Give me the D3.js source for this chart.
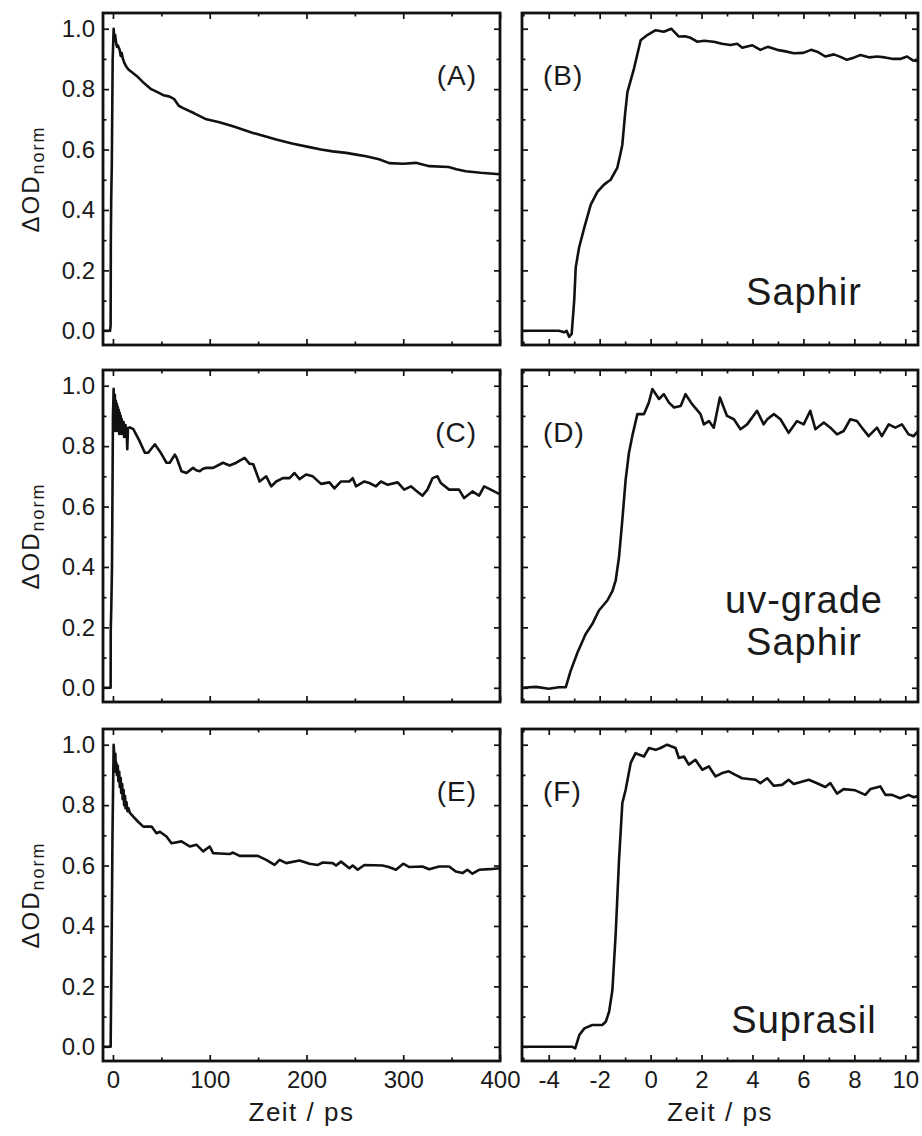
<!DOCTYPE html>
<html>
<head>
<meta charset="utf-8">
<script src="https://cdn.jsdelivr.net/npm/d3@7"></script>
<style>
body { margin: 0; background: #fff; }
svg text { font-family: "Liberation Sans", Arial, sans-serif; fill: #1a1a1a; }
</style>
</head>
<body>
<div id="chart"></div>
<script>
// left column: 0..400 ps, right column: -5..10 ps  ([t, dOD_norm])
const curveA = [[-10,0],[-3,0],[-2.4,0.02],[-2.2,0.3],[-1.8,0.44],[-1.2,0.55],[-0.3,0.9],[0.7,1.0],[1.5,0.96],[2.2,0.98],[3.4,0.95],[4.2,0.94],[5,0.945],[6.9,0.93],[8,0.91],[9,0.92],[10.3,0.9],[12,0.885],[13.7,0.875],[16,0.865],[20,0.855],[25.8,0.84],[32,0.82],[39.5,0.8],[46,0.79],[52,0.78],[58,0.776],[63,0.768],[68,0.745],[72.5,0.737],[84,0.72],[96.6,0.7],[110,0.69],[124,0.677],[144.7,0.655],[168.7,0.633],[185,0.62],[203,0.608],[215,0.6],[227,0.594],[241,0.589],[250,0.584],[261.5,0.578],[275,0.568],[285.6,0.555],[300,0.553],[313,0.556],[327,0.545],[347,0.542],[355,0.535],[364.6,0.528],[380,0.523],[400,0.518]];
const curveB = [[-5.05,0],[-4,0],[-3.6,0],[-3.4,-0.005],[-3.3,0],[-3.2,-0.02],[-3.1,-0.01],[-3.0,0.1],[-2.94,0.21],[-2.81,0.275],[-2.61,0.34],[-2.35,0.418],[-2.09,0.46],[-1.83,0.484],[-1.57,0.5],[-1.31,0.539],[-1.2,0.58],[-1.11,0.616],[-1.0,0.72],[-0.91,0.79],[-0.65,0.869],[-0.39,0.962],[-0.13,0.979],[0.2,0.995],[0.52,0.99],[0.81,1.0],[1.11,0.974],[1.35,0.975],[1.57,0.97],[1.83,0.957],[2.1,0.96],[2.48,0.957],[2.8,0.95],[3.14,0.946],[3.4,0.95],[3.6,0.937],[3.79,0.941],[4.0,0.945],[4.31,0.93],[4.6,0.94],[4.97,0.93],[5.3,0.925],[5.62,0.919],[6.0,0.92],[6.3,0.93],[6.54,0.924],[6.86,0.908],[7.2,0.915],[7.5,0.905],[7.71,0.897],[8.0,0.905],[8.24,0.913],[8.6,0.905],[8.89,0.908],[9.2,0.905],[9.54,0.9],[9.8,0.9],[10.07,0.908],[10.3,0.895],[10.5,0.893]];
const curveC = [[-10.3,0],[-3.5,0],[-2.4,0],[-2.3,0.19],[-1.7,0.27],[-1,0.4],[0,0.9],[0.7,0.99],[1.5,0.86],[2,0.97],[2.5,0.85],[3,0.95],[3.5,0.86],[4,0.94],[4.5,0.85],[5,0.93],[5.5,0.86],[6,0.92],[6.5,0.84],[7,0.91],[7.5,0.85],[8,0.9],[8.5,0.84],[9,0.89],[9.5,0.85],[10,0.88],[10.5,0.84],[11,0.88],[11.5,0.83],[12,0.87],[12.5,0.84],[13,0.87],[13.5,0.83],[14,0.86],[14.8,0.79],[15.5,0.86],[17.5,0.862],[21,0.856],[27,0.82],[33,0.778],[36.4,0.778],[43.3,0.806],[49,0.78],[55.3,0.745],[58.7,0.745],[63.9,0.772],[66,0.76],[70.8,0.717],[76,0.711],[82.8,0.728],[86,0.72],[89.7,0.717],[93,0.725],[96.6,0.728],[103.5,0.728],[113.7,0.745],[120.6,0.736],[127.5,0.745],[136,0.761],[141,0.742],[145,0.74],[151.5,0.683],[158.4,0.7],[163.6,0.667],[168.7,0.683],[175.6,0.694],[182.5,0.694],[187.6,0.711],[192.8,0.691],[199.6,0.706],[206.5,0.7],[215,0.675],[223.7,0.68],[228.9,0.66],[235.7,0.683],[244.3,0.683],[247.8,0.694],[251.2,0.667],[259.8,0.683],[265,0.678],[271.8,0.667],[277,0.683],[283.9,0.672],[294.2,0.68],[301,0.656],[307.9,0.667],[313.1,0.653],[319.9,0.636],[325,0.656],[330.2,0.694],[335.4,0.7],[338.8,0.678],[347.4,0.656],[357.7,0.656],[362.9,0.628],[371.5,0.65],[378.4,0.636],[383.6,0.667],[390.5,0.656],[400,0.64]];
const curveD = [[-5.05,0],[-4.5,0.003],[-4,-0.003],[-3.6,0.002],[-3.33,0.002],[-3.14,0.056],[-2.87,0.117],[-2.55,0.178],[-2.29,0.211],[-2.03,0.256],[-1.7,0.289],[-1.5,0.32],[-1.37,0.356],[-1.24,0.433],[-1.11,0.556],[-0.98,0.689],[-0.85,0.778],[-0.72,0.833],[-0.52,0.906],[-0.26,0.906],[-0.07,0.944],[0.07,0.989],[0.33,0.956],[0.52,0.972],[0.72,0.944],[0.92,0.928],[1.18,0.933],[1.37,0.972],[1.63,0.939],[1.96,0.906],[2.09,0.872],[2.29,0.883],[2.48,0.861],[2.72,0.961],[3.0,0.9],[3.27,0.889],[3.53,0.856],[3.79,0.872],[4.18,0.917],[4.44,0.872],[4.58,0.889],[4.84,0.906],[5.1,0.889],[5.42,0.844],[5.75,0.883],[6.01,0.872],[6.27,0.917],[6.47,0.856],[6.8,0.878],[7.06,0.861],[7.32,0.839],[7.58,0.85],[7.84,0.889],[8.1,0.883],[8.3,0.861],[8.56,0.833],[8.89,0.861],[9.08,0.833],[9.35,0.872],[9.61,0.861],[9.87,0.872],[10.13,0.839],[10.33,0.833],[10.5,0.85]];
const curveE = [[-10.3,0],[-3,0],[-2.4,0],[-2.2,0.07],[-1.5,0.3],[-0.5,0.7],[0.7,1.0],[2,0.93],[2.5,0.97],[3,0.91],[3.5,0.94],[4,0.9],[5,0.93],[5.5,0.88],[6.5,0.91],[7,0.86],[8,0.89],[8.5,0.84],[9.5,0.87],[10,0.82],[11,0.85],[11.5,0.8],[12.5,0.83],[13,0.79],[14,0.81],[15,0.78],[16,0.79],[17.5,0.774],[21,0.762],[26,0.745],[31.3,0.729],[39.9,0.729],[45,0.707],[48.5,0.712],[55.3,0.696],[60.5,0.674],[70.8,0.68],[75,0.672],[79.4,0.663],[86.3,0.669],[93.2,0.647],[100,0.663],[103.5,0.641],[110,0.64],[120.6,0.638],[124,0.643],[130.9,0.632],[149.8,0.632],[158.4,0.619],[167,0.602],[172.2,0.619],[179,0.608],[192.8,0.617],[203.1,0.606],[211.7,0.602],[216.8,0.61],[227.1,0.608],[230.6,0.6],[235.7,0.613],[244.3,0.591],[247.8,0.6],[252.9,0.586],[259.8,0.602],[278.7,0.6],[285,0.595],[292.5,0.586],[300,0.606],[306.2,0.595],[319.9,0.597],[326.8,0.588],[337.1,0.597],[347.4,0.597],[354.3,0.58],[361.2,0.575],[366.3,0.586],[371.5,0.573],[378.4,0.586],[388.7,0.588],[400,0.591]];
const curveF = [[-5.05,0],[-4,0],[-3.07,0],[-2.96,-0.005],[-2.8,0.039],[-2.6,0.061],[-2.29,0.072],[-1.9,0.072],[-1.76,0.083],[-1.63,0.116],[-1.5,0.188],[-1.37,0.376],[-1.24,0.619],[-1.11,0.807],[-0.98,0.851],[-0.78,0.94],[-0.59,0.972],[-0.26,0.961],[-0.07,0.989],[0.2,0.983],[0.39,0.989],[0.65,1.0],[0.98,0.989],[1.11,0.956],[1.31,0.961],[1.5,0.934],[1.76,0.95],[2.03,0.917],[2.29,0.928],[2.55,0.895],[2.81,0.906],[3.07,0.912],[3.33,0.9],[3.59,0.889],[4.12,0.884],[4.31,0.873],[4.58,0.889],[4.84,0.864],[5.16,0.867],[5.42,0.884],[5.62,0.87],[6.21,0.884],[6.47,0.875],[6.86,0.86],[7.06,0.873],[7.32,0.838],[7.58,0.853],[8.04,0.849],[8.43,0.834],[8.63,0.853],[9.02,0.862],[9.22,0.834],[9.48,0.834],[9.8,0.823],[10.13,0.834],[10.33,0.826],[10.5,0.83]];

const panelLetters = ["A", "B", "C", "D", "E", "F"];
const sampleNames = [["Saphir"], ["uv-grade", "Saphir"], ["Suprasil"]];
const yTicks = [0, 0.2, 0.4, 0.6, 0.8, 1.0];
const yMinor = [0.1, 0.3, 0.5, 0.7, 0.9];
const xTicksLeft = [0, 100, 200, 300, 400];
const xMinorLeft = [50, 150, 250, 350];
const xTicksRight = [-4, -2, 0, 2, 4, 6, 8, 10];
const xMinorRight = [-5, -3, -1, 1, 3, 5, 7, 9];

const WIDTH = 922, HEIGHT = 1136;
const ROW_TOP = [13, 370, 729], ROW_H = 332;
const COLS = [
    { x0: 103, x1: 500, dom: [-10.3, 400], major: xTicksLeft, minor: xMinorLeft },
    { x0: 522, x1: 918, dom: [-5.05, 10.5], major: xTicksRight, minor: xMinorRight }
];
const MAJOR = 6, MINOR = 3.5;

const svg = d3.select("#chart").append("svg")
    .attr("width", WIDTH)
    .attr("height", HEIGHT)

const curves = [curveA, curveB, curveC, curveD, curveE, curveF];

curves.forEach((data, i) => {
    const row = Math.floor(i / 2), col = COLS[i % 2];
    const top = ROW_TOP[row], bottom = top + ROW_H;
    const x = d3.scaleLinear().domain(col.dom).range([col.x0, col.x1]);
    const y = d3.scaleLinear().domain([-0.047, 1.052]).range([bottom, top]);
    const g = svg.append("g");

    const clipId = "clip" + i;
    g.append("clipPath").attr("id", clipId).append("rect")
        .attr("x", col.x0).attr("y", top)
        .attr("width", col.x1 - col.x0).attr("height", ROW_H);

    const line = d3.line().x(d => x(d[0])).y(d => y(d[1]));
    g.append("path").datum(data)
        .attr("clip-path", `url(#${clipId})`)
        .attr("d", line)
        .attr("fill", "none")
        .attr("stroke", "#111")
        .attr("stroke-width", 2.6)
        .attr("stroke-linejoin", "round");

    // ticks all point inward
    const isBottom = row === 2, isLeft = i % 2 === 0;
    const addAxis = (axis, tr) => {
        const a = g.append("g").attr("transform", tr).call(axis);
        a.select(".domain").remove();
        a.selectAll("line").attr("stroke", "#111").attr("stroke-width", 1.7);
        a.selectAll("text").attr("font-size", 24).attr("fill", "#1a1a1a");
        return a;
    };
    addAxis(d3.axisBottom(x).tickValues(col.major).tickSize(-MAJOR).tickPadding(10)
        .tickFormat(isBottom ? d => String(d) : () => ""), `translate(0,${bottom})`);
    addAxis(d3.axisBottom(x).tickValues(col.minor).tickSize(-MINOR).tickFormat(""), `translate(0,${bottom})`);
    addAxis(d3.axisTop(x).tickValues(col.major).tickSize(-MAJOR).tickFormat(""), `translate(0,${top})`);
    addAxis(d3.axisTop(x).tickValues(col.minor).tickSize(-MINOR).tickFormat(""), `translate(0,${top})`);
    addAxis(d3.axisLeft(y).tickValues(yTicks).tickSize(-MAJOR).tickPadding(8)
        .tickFormat(isLeft ? d3.format(".1f") : () => ""), `translate(${col.x0},0)`);
    addAxis(d3.axisLeft(y).tickValues(yMinor).tickSize(-MINOR).tickFormat(""), `translate(${col.x0},0)`);
    addAxis(d3.axisRight(y).tickValues(yTicks).tickSize(-MAJOR).tickFormat(""), `translate(${col.x1},0)`);
    addAxis(d3.axisRight(y).tickValues(yMinor).tickSize(-MINOR).tickFormat(""), `translate(${col.x1},0)`);

    g.append("rect")
        .attr("x", col.x0).attr("y", top)
        .attr("width", col.x1 - col.x0).attr("height", ROW_H)
        .attr("fill", "none").attr("stroke", "#111").attr("stroke-width", 2.8);

    // panel letter
    g.append("text")
        .attr("x", isLeft ? col.x1 - 23 : col.x0 + 21)
        .attr("y", top + 72)
        .attr("text-anchor", isLeft ? "end" : "start")
        .attr("font-size", 28)
        .attr("letter-spacing", 1)
        .text(`(${panelLetters[i]})`);

    if (isLeft) {
        const lab = g.append("text")
            .attr("transform", `translate(39,${(top + bottom) / 2}) rotate(-90)`)
            .attr("text-anchor", "middle")
            .attr("font-size", 24)
            .attr("letter-spacing", 2);
        lab.append("tspan").text("ΔOD");
        lab.append("tspan").attr("font-size", 18).attr("dy", 5).text("norm");
    } else {
        const names = sampleNames[row];
        const baseY = names.length === 1 ? (row === 0 ? top + 292 : top + 304) : top + 243;
        names.forEach((n, k) => {
            g.append("text")
                .attr("x", 804)
                .attr("y", baseY + k * 42)
                .attr("text-anchor", "middle")
                .attr("font-size", 38)
                .attr("letter-spacing", 1)
                .text(n);
        });
    }
    if (isBottom) {
        g.append("text")
            .attr("x", (col.x0 + col.x1) / 2)
            .attr("y", 1121)
            .attr("text-anchor", "middle")
            .attr("font-size", 26)
            .attr("letter-spacing", 1.5)
            .text("Zeit / ps");
    }
});
</script>
</body>
</html>
